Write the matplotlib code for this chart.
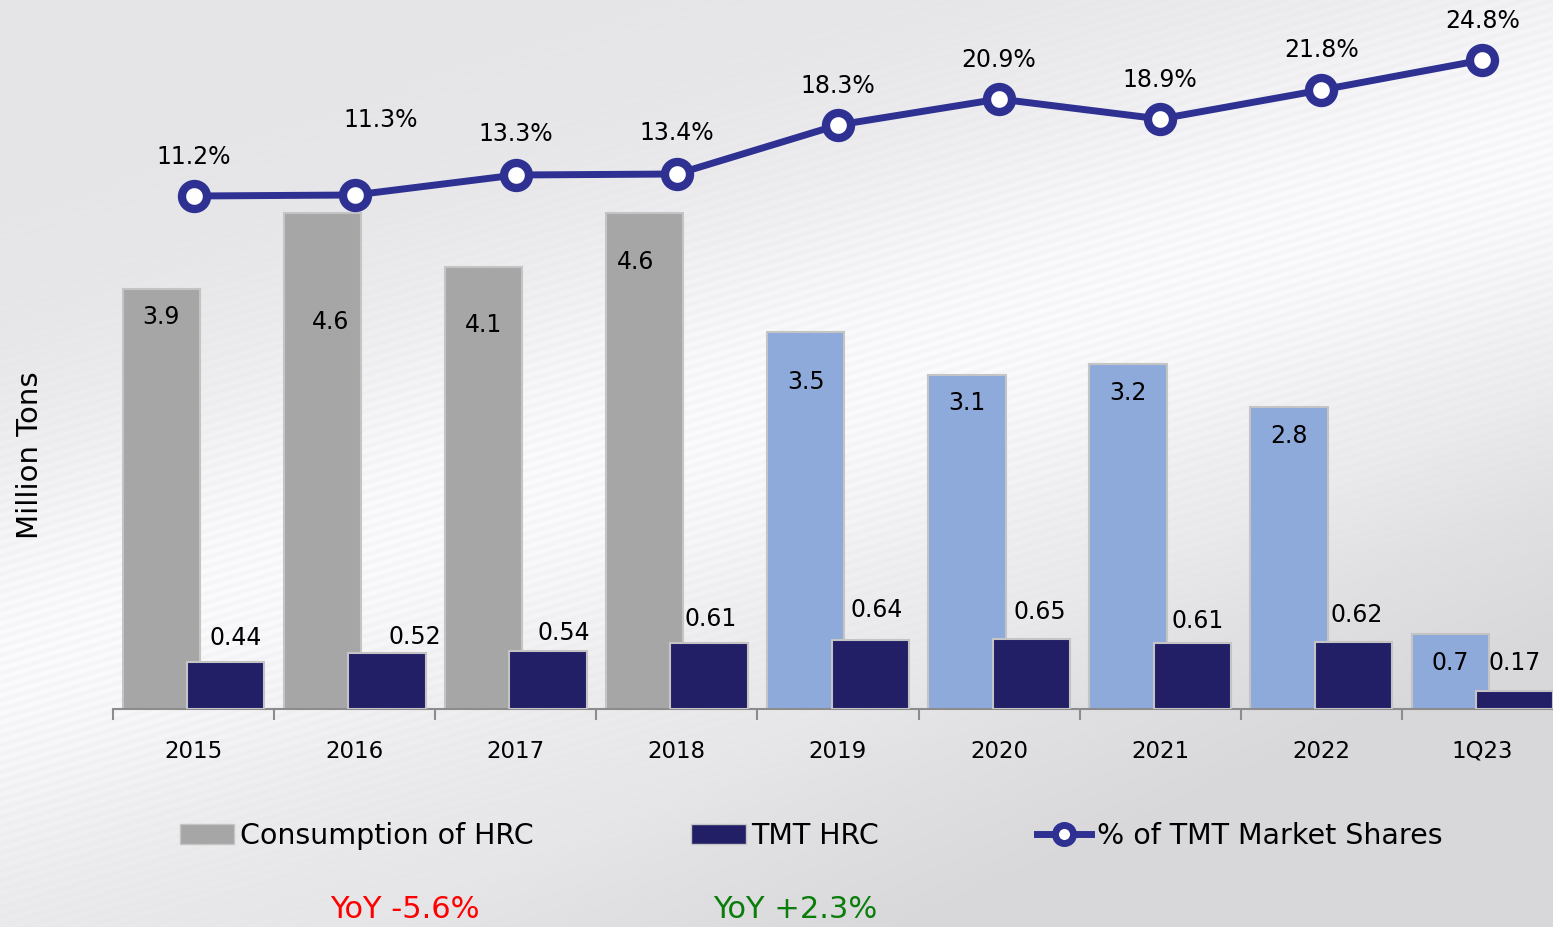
import numpy as np
import matplotlib.pyplot as plt
from matplotlib.patches import Patch
from matplotlib.lines import Line2D

# data
categories = ["2015", "2016", "2017", "2018", "2019", "2020", "2021", "2022", "1Q23"]
consumption = [3.9, 4.6, 4.1, 4.6, 3.5, 3.1, 3.2, 2.8, 0.7]
tmt_hrc = [0.44, 0.52, 0.54, 0.61, 0.64, 0.65, 0.61, 0.62, 0.17]
market_share = [11.2, 11.3, 13.3, 13.4, 18.3, 20.9, 18.9, 21.8, 24.8]
yoy_consumption = "YoY -5.6%"
yoy_tmt = "YoY +2.3%"

# label offsets in pixels (dx, dy)
cons_lbl_off = [(0, -28), (8, -109), (0, -58), (-9, -49), (0, -50), (0, -28), (0, -29), (0, -29), (0, -29)]
tmt_lbl_off = [(10, 24), (28, 16), (16, 18), (2, 24), (6, 30), (8, 27), (5, 22), (3, 27), (0, 28)]
share_lbl_off = [(0, 39), (26, 75), (0, 41), (0, 41), (0, 39), (0, 39), (0, 39), (0, 40), (0, 39)]

gray = "#A6A6A6"
light_blue = "#8EAADB"
navy = "#221F66"
line_col = "#2E3192"
edge = "#C4C4C4"

W, H = 1553, 927
fig = plt.figure(figsize=(W / 100, H / 100), dpi=100)

# background gradient with light diagonal band
bg = fig.add_axes([0, 0, 1, 1])
yy, xx = np.mgrid[0:H, 0:W]
v = np.full((H, W), 0.9)
d = yy - (660 - 0.33 * xx)
v += 0.075 * np.exp(-(d / 220.0) ** 2)
v -= 0.05 * np.clip((yy - (1080 - 0.45 * xx)) / 250.0, 0, 1)
v += 0.012 * np.sin(2 * np.pi * (yy + 0.3 * xx) / 9.0) * np.exp(-(d / 250.0) ** 2)
v = np.clip(v, 0, 1)
rgb = np.dstack([v, v, np.clip(v + 0.012, 0, 1)])
bg.imshow(rgb, aspect="auto", extent=[0, W, H, 0])
bg.axis("off")

ax = fig.add_axes([113 / W, (H - 709) / H, (1563 - 113) / W, 709 / H])
ax.patch.set_alpha(0)
x = np.arange(len(categories))
bar_w = 0.48
cons_colors = [gray if i < 4 else light_blue for i in range(len(categories))]

ax.bar(x - 0.2, consumption, bar_w, color=cons_colors, edgecolor=edge, linewidth=1.5, zorder=2)
ax.bar(x + 0.2, tmt_hrc, bar_w, color=navy, edgecolor=edge, linewidth=1.5, zorder=3)

ax.set_xlim(-0.5, len(categories) - 0.5)
ax.set_ylim(0, 6.58)
ax.set_yticks([])
for s in ["top", "right", "left"]:
    ax.spines[s].set_visible(False)
ax.spines["bottom"].set_color("#8C8C8C")
ax.spines["bottom"].set_linewidth(1.5)
ax.set_xticks(x)
ax.set_xticklabels(categories, fontsize=16.5)
ax.tick_params(axis="x", which="major", length=0, pad=22)
ax.set_xticks(np.arange(-0.5, len(categories), 1), minor=True)
ax.tick_params(axis="x", which="minor", length=8, width=1.5, color="#8C8C8C")

for i, val in enumerate(consumption):
    ax.annotate(f"{val}", (x[i] - 0.2, val), xytext=cons_lbl_off[i], textcoords="offset pixels",
                ha="center", va="center", fontsize=17, zorder=5)
for i, val in enumerate(tmt_hrc):
    ax.annotate(f"{val}", (x[i] + 0.2, val), xytext=tmt_lbl_off[i], textcoords="offset pixels",
                ha="center", va="center", fontsize=17, zorder=5)

ax2 = ax.twinx()
ax2.set_ylim(-40.1, 30.8)
ax2.axis("off")
ax2.plot(x, market_share, color=line_col, lw=5, marker="o", ms=18, mew=6,
         mfc="white", mec=line_col, zorder=4)
for i, val in enumerate(market_share):
    ax2.annotate(f"{val}%", (x[i], val), xytext=share_lbl_off[i], textcoords="offset pixels",
                 ha="center", va="center", fontsize=17)

fig.text(30 / W, 1 - 455 / H, "Million Tons", rotation=90, ha="center", va="center", fontsize=21)

handles = [
    Patch(facecolor=gray, edgecolor=edge),
    Patch(facecolor=navy, edgecolor=edge),
    Line2D([0], [0], color=line_col, lw=5, marker="o", ms=13, mew=5, mfc="white", mec=line_col),
]
fig.legend(handles, ["Consumption of HRC", "TMT HRC", "% of TMT Market Shares"],
           loc="center left", bbox_to_anchor=(180 / W, 1 - 836 / H), ncol=3, frameon=False,
           fontsize=20.5, handlelength=1.9, handleheight=0.65, handletextpad=0.2,
           columnspacing=5.55, borderaxespad=0, borderpad=0)

fig.text(405 / W, 1 - 910 / H, yoy_consumption, color="#FF0000", ha="center", va="center", fontsize=22)
fig.text(795 / W, 1 - 910 / H, yoy_tmt, color="#0A7D0A", ha="center", va="center", fontsize=22)

fig.savefig("out.png", dpi=100)
